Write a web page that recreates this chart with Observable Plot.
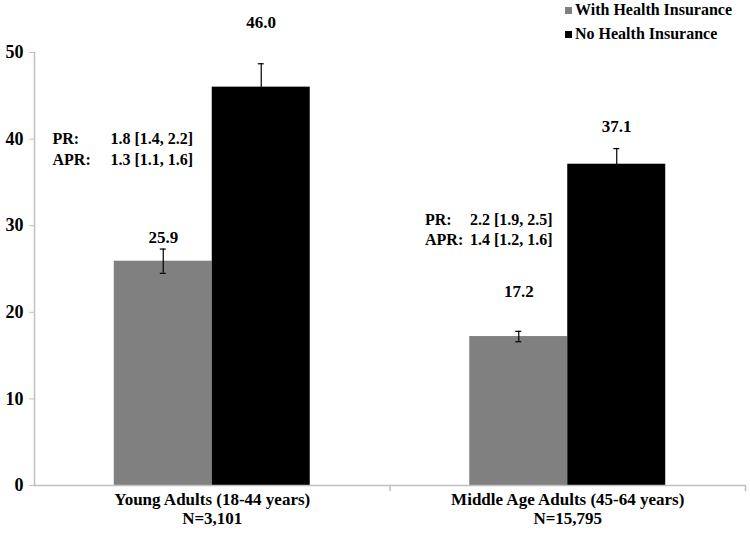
<!DOCTYPE html>
<html>
<head>
<meta charset="utf-8">
<script src="https://cdn.jsdelivr.net/npm/d3@7"></script>
<script src="https://cdn.jsdelivr.net/npm/@observablehq/plot@0.6"></script>
<style>
  body { margin: 0; background: #fff; }
  #wrap { position: relative; width: 750px; height: 539px; font-family: "Liberation Serif", "Times New Roman", serif; }
  #legend { position: absolute; left: 565px; top: 1px; font-weight: bold; font-size: 16px; }
  #legend .item { display: flex; align-items: center; height: 18px; line-height: 18px; margin-bottom: 6px; }
  #legend .sw { width: 7px; height: 7px; margin-right: 3px; display: inline-block; }
</style>
</head>
<body>
<div id="wrap">
  <div id="legend"></div>
</div>
<script>
const categories = ["Young Adults (18-44 years)", "Middle Age Adults (45-64 years)"];
const sampleSizes = ["N=3,101", "N=15,795"];
const series = ["With Health Insurance", "No Health Insurance"];
const withInsurance = [25.9, 17.2];
const noInsurance = [46.0, 37.1];
const withErr = [1.4, 0.6];
const noErr = [2.7, 1.8];
const prText = ["1.8 [1.4, 2.2]", "2.2 [1.9, 2.5]"];
const aprText = ["1.3 [1.1, 1.6]", "1.4 [1.2, 1.6]"];
const yTicks = [0, 10, 20, 30, 40, 50];
const colors = ["#808080", "#000000"];

const rows = [];
categories.forEach((c, i) => {
  rows.push({category: c, series: series[0], value: withInsurance[i], err: withErr[i]});
  rows.push({category: c, series: series[1], value: noInsurance[i], err: noErr[i]});
});
const ann = categories.map((c, i) => ({category: c, labels: "PR:\nAPR:", values: prText[i] + "\n" + aprText[i]}));

const font = "Liberation Serif, Times New Roman, serif";
const labelDy = [-12, -41, -40, -22];

const marks = [
  Plot.barY(rows, {fx: "category", x: "series", y: "value", fill: "series"}),
  Plot.ruleX(rows, {fx: "category", x: "series", y1: d => d.value - d.err, y2: d => d.value + d.err, stroke: "#000", strokeWidth: 1.2}),
  Plot.tickY(rows, {fx: "category", x: "series", y: d => d.value + d.err, stroke: "#000", strokeWidth: 1.2, insetLeft: 46, insetRight: 46}),
  Plot.tickY(rows, {fx: "category", x: "series", y: d => d.value - d.err, stroke: "#000", strokeWidth: 1.2, insetLeft: 46, insetRight: 46}),
  Plot.ruleY([0], {stroke: "#c0c0c0", strokeWidth: 1.5}),
  Plot.frame({anchor: "right", stroke: "#c0c0c0", strokeWidth: 1.5, insetTop: 433, insetBottom: -5}),
  Plot.frame({anchor: "left", stroke: "#c0c0c0", strokeWidth: 1.5, facetAnchor: "left"}),
  Plot.axisY({ticks: yTicks, tickSize: 5, tickPadding: 6, fontSize: 18, fontWeight: "bold", fontFamily: font, stroke: "#c0c0c0", fill: "#000", label: null}),
  Plot.axisFx({anchor: "bottom", tickSize: 0, tickPadding: 6, fontSize: 17, fontWeight: "bold", fontFamily: font, label: null, lineHeight: 1.12,
    tickFormat: d => d + "\n" + sampleSizes[categories.indexOf(d)]})
];

rows.forEach((r, i) => {
  marks.push(Plot.text([r], {fx: "category", x: "series", y: d => d.value + d.err, text: d => d.value.toFixed(1), dy: labelDy[i],
    fontSize: 17, fontWeight: "bold", fontFamily: font, fill: "#000"}));
});

const annX = [[18, 76], [35, 80]];
const annY = [39.0, 29.7];
ann.forEach((a, i) => {
  marks.push(Plot.text([a], {fx: "category", y: () => annY[i], text: "labels", frameAnchor: "left", dx: annX[i][0], textAnchor: "start",
    fontSize: 16, fontWeight: "bold", fontFamily: font, lineHeight: 1.3, fill: "#000"}));
  marks.push(Plot.text([a], {fx: "category", y: () => annY[i], text: "values", frameAnchor: "left", dx: annX[i][1], textAnchor: "start",
    fontSize: 16, fontWeight: "bold", fontFamily: font, lineHeight: 1.3, fill: "#000"}));
});

const chart = Plot.plot({
  width: 750, height: 539,
  marginLeft: 34, marginRight: 5, marginTop: 52, marginBottom: 54,
  style: {fontFamily: font, background: "#fff"},
  fx: {domain: categories, paddingInner: 0, paddingOuter: 0, axis: null, label: null, round: false},
  x: {domain: series, paddingInner: 0, paddingOuter: 0.814, axis: null, round: false},
  y: {domain: [0, 50], axis: null},
  color: {domain: series, range: colors},
  marks
});

const wrap = document.getElementById("wrap");
wrap.insertBefore(chart, wrap.firstChild);

const legend = document.getElementById("legend");
series.forEach((s, i) => {
  const item = document.createElement("div");
  item.className = "item";
  const sw = document.createElement("span");
  sw.className = "sw";
  sw.style.background = colors[i];
  item.appendChild(sw);
  item.appendChild(document.createTextNode(s));
  legend.appendChild(item);
});
</script>
</body>
</html>
